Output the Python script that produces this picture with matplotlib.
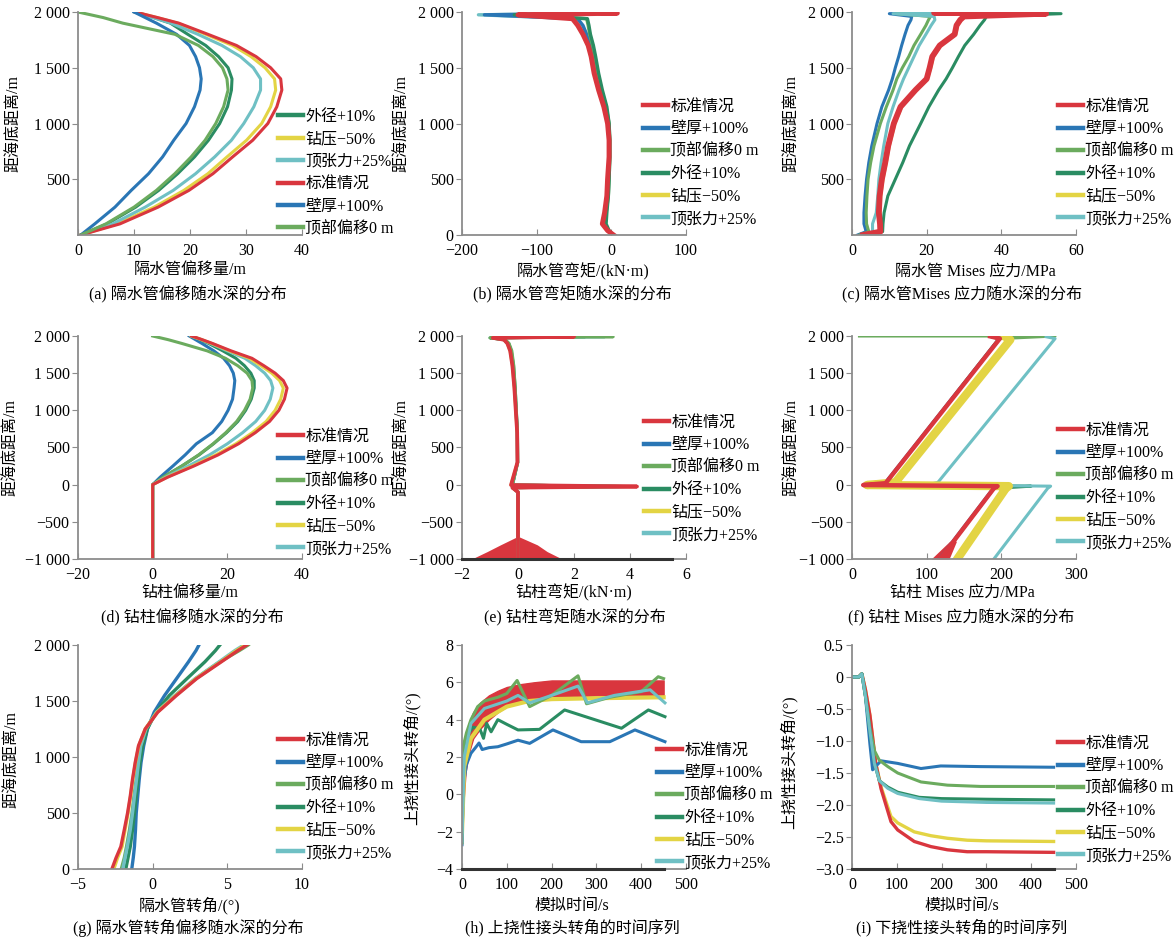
import matplotlib.pyplot as plt
from matplotlib.lines import Line2D

plt.rcParams['font.family'] = ['Liberation Serif', 'Noto Sans CJK SC']
plt.rcParams['axes.unicode_minus'] = True

W, H = 1174, 942

# 0 标准, 1 壁厚, 2 顶部偏移, 3 外径, 4 钻压, 5 顶张力
NAMES = ['标准情况', '壁厚+100%', '顶部偏移0 m', '外径+10%', '钻压−50%', '顶张力+25%']
COLORS = ['#d9363e', '#2a76b5', '#6bab5e', '#2a8c62', '#e3d444', '#6fc0c4']

# (a) riser offset vs height
H_A = [0, 100, 250, 400, 550, 700, 850, 1000, 1150, 1300, 1400, 1500, 1600, 1700, 1800, 1900, 1950, 2000]
A_STD = [0.5, 7.5, 14.3, 19.8, 24.1, 27.6, 31.2, 33.9, 35.5, 36.4, 36.2, 34.4, 31.8, 28.3, 23.2, 18.0, 14.2, 10.2]
A_WALL = [0.5, 3.0, 6.6, 9.5, 12.6, 15.1, 17.1, 19.3, 20.8, 21.8, 22.0, 21.7, 21.0, 19.9, 17.6, 14.0, 12.0, 10.0]
A_TOP0 = [0.5, 5.0, 10.0, 14.0, 17.3, 20.2, 22.7, 24.6, 26.0, 26.8, 26.6, 25.8, 24.1, 21.5, 17.3, 8.0, 4.5, 0.0]
A_OD = [0.5, 5.2, 10.3, 14.4, 17.8, 20.8, 23.3, 25.3, 26.7, 27.4, 27.5, 26.8, 25.1, 22.8, 19.6, 16.5, 13.5, 10.3]
A_WOB = [0.5, 7.0, 13.6, 18.9, 23.2, 26.6, 30.1, 32.8, 34.4, 35.3, 35.1, 33.4, 30.9, 27.6, 22.8, 17.8, 14.1, 10.2]
A_TEN = [0.5, 6.2, 12.0, 17.0, 21.0, 24.4, 27.4, 29.6, 31.4, 32.6, 32.6, 31.3, 29.0, 25.7, 21.4, 16.6, 13.4, 10.0]

# (b) riser bending moment
H_B = [0, 40, 100, 200, 350, 500, 700, 850, 1000, 1150, 1300, 1450, 1600, 1700, 1800, 1880, 1940, 1975, 1990, 2000]
B_STD = [3, -5, -12, -9, -6, -5, -3, -3, -5, -10, -17, -23, -27, -31, -38, -45, -52, -125, 8, -40]
B_WALL = [2, -5, -10, -8, -5, -4, -3, -3, -5, -9, -15, -20, -24, -28, -33, -38, -45, -170, 0, -40]
B_TOP0 = [2, -4, -8, -7, -4, -3, -2, -2, -3, -7, -13, -18, -22, -25, -29, -31, -33, -120, 8, -50]
B_OD = [2, -3, -7, -6, -4, -3, -2, -2, -3, -6, -12, -17, -21, -24, -28, -30, -32, -130, 5, -60]
B_WOB = [3, -5, -12, -9, -6, -5, -3, -3, -5, -10, -17, -23, -27, -31, -38, -45, -52, -120, 6, -45]
B_TEN = [3, -5, -10, -8, -5, -4, -3, -3, -4, -8, -15, -21, -25, -29, -35, -42, -48, -178, 5, -40]

# (c) riser Mises stress
H_C = [0, 30, 100, 200, 350, 500, 650, 800, 1000, 1150, 1300, 1400, 1500, 1600, 1700, 1800, 1880, 1930,
       1960, 1985, 1993, 2000]
C_STD = [3, 7.6, 7.5, 7.2, 7.4, 8.0, 8.9, 9.7, 11.2, 13.0, 17.0, 20.0, 20.8, 21.5, 23.5, 27.5, 28.0, 29.0,
         30, 52, 22, 45]
C_WALL = [1.5, 3.8, 3.2, 3.2, 3.5, 3.9, 4.5, 5.3, 6.7, 8.0, 9.8, 10.8, 11.6, 12.5, 13.3, 14.2, 15.0, 15.8,
          16, 10, 28, 12]
C_TOP0 = [2, 4.5, 3.9, 3.8, 4.0, 4.3, 5.0, 5.9, 7.6, 9.2, 11.0, 12.0, 13.5, 15.2, 16.6, 18.4, 19.8, 20.5,
          21, 12, 35, 20]
C_OD = [4, 8.2, 8.3, 8.6, 9.6, 11.6, 13.6, 15.4, 18.4, 20.6, 23.2, 25.2, 26.9, 28.5, 30.2, 32.6, 34.3, 35.5,
        36, 56, 25, 40]
C_WOB = [3, 7.8, 7.8, 7.5, 7.7, 8.3, 9.2, 10.0, 11.5, 13.3, 17.2, 20.2, 21.1, 21.8, 23.8, 27.8, 28.3, 29.3,
         30, 50, 24, 44]
C_TEN = [3, 5.5, 5.5, 6.5, 6.9, 7.2, 7.8, 8.5, 9.6, 11.0, 12.6, 13.8, 15.2, 16.6, 18.0, 19.8, 21.2, 22.2,
         22, 11, 40, 18]

# (d) drill string offset
H_D = [-1000, 0, 100, 250, 400, 550, 700, 850, 1000, 1150, 1300, 1400, 1500, 1600, 1700, 1800, 1900, 1950, 2000]
D_STD = [0, 0, 4.0, 11.0, 17.5, 23.0, 27.5, 31.3, 33.8, 35.3, 36.0, 35.0, 32.8, 29.8, 26.6, 21.0, 16.0, 13.3, 10.4]
D_WALL = [0, 0, 2.0, 5.4, 8.7, 11.7, 16.0, 18.5, 20.2, 21.4, 21.8, 22.0, 21.6, 20.6, 19.0, 16.4, 13.2, 11.5, 9.8]
D_TOP0 = [0, 0, 2.8, 7.8, 12.3, 16.2, 19.6, 22.5, 24.6, 26.1, 26.8, 26.6, 25.3, 22.8, 19.5, 14.6, 7.8, 4.2, 0.0]
D_OD = [0, 0, 2.8, 7.8, 12.4, 16.3, 19.8, 22.8, 24.9, 26.4, 27.2, 27.2, 26.3, 24.6, 22.3, 18.8, 15.0, 12.8, 10.2]
D_WOB = [0, 0, 3.8, 10.6, 16.9, 22.3, 26.7, 30.4, 32.8, 34.3, 35.0, 34.0, 31.9, 29.0, 25.9, 20.6, 15.8, 13.2, 10.4]
D_TEN = [0, 0, 3.4, 9.5, 15.2, 20.0, 24.1, 27.6, 30.0, 31.5, 32.2, 31.6, 30.0, 27.6, 24.7, 20.0, 15.5, 13.0, 10.2]

# (e) drill string bending moment
H_E = [-1000, -700, -100, -40, -25, -5, 300, 700, 1000, 1300, 1600, 1800, 1900, 1950, 1975, 1990, 2000]
E_STD = [0.0, 0.0, 0.0, -0.2, 4.25, -0.25, -0.02, -0.03, -0.08, -0.13, -0.2, -0.28, -0.38, -0.5, -0.9, 2.0, 0.3]
E_WALL = [0.0, 0.0, 0.0, -0.2, 3.6, -0.2, -0.02, -0.03, -0.07, -0.12, -0.18, -0.26, -0.35, -0.5, -0.9, 1.8, 0.3]
E_TOP0 = [0.0, 0.0, 0.0, -0.2, 3.8, -0.2, -0.01, -0.02, -0.06, -0.1, -0.15, -0.22, -0.32, -0.45, -1.0, 3.4, 0.5]
E_OD = [0.0, 0.0, 0.0, -0.2, 3.7, -0.2, -0.01, -0.02, -0.06, -0.1, -0.16, -0.24, -0.33, -0.48, -1.0, 2.4, 0.3]
E_WOB = [0.0, 0.0, 0.0, -0.2, 4.0, -0.25, -0.02, -0.03, -0.08, -0.13, -0.2, -0.28, -0.38, -0.5, -0.9, 2.0, 0.3]
E_TEN = [0.0, 0.0, 0.0, -0.2, 3.9, -0.2, -0.02, -0.03, -0.07, -0.12, -0.18, -0.27, -0.36, -0.5, -0.9, 3.1, 0.4]
E_FAN_Y = [-700, -810, -900, -990]
E_FAN_L = [-0.03, -0.63, -1.1, -1.6]
E_FAN_R = [0.03, 0.69, 1.04, 1.52]
E_BASE_END = 5.5

# (f) drill string Mises stress (x, y pairs per series)
F_STD_X = [185, 198, 45, 15, 195, 190, 118]
F_STD_Y = [1995, 1965, 20, -5, -20, -50, -1000]
F_WALL_X = [185, 197, 44, 15, 194, 189, 117]
F_WALL_Y = [1995, 1965, 20, -5, -20, -50, -1000]
F_TOP0_X = [10, 272, 198, 45, 15, 195, 190, 118]
F_TOP0_Y = [2000, 2000, 1965, 20, -5, -20, -50, -1000]
F_OD_X = [185, 197, 45, 15, 240, 190, 118]
F_OD_Y = [1995, 1965, 20, -5, -20, -50, -1000]
F_WOB_X = [205, 212, 58, 20, 210, 206, 141]
F_WOB_Y = [1990, 1950, 30, -5, -20, -50, -1000]
F_TEN_X = [260, 272, 115, 100, 266, 262, 190]
F_TEN_Y = [1990, 1965, 30, -5, -20, -50, -1000]
F_FAN_Y = [-760, -1000]
F_FAN_L = [131, 106]
F_FAN_R = [140, 130]

# (g) riser rotation angle
H_G = [0, 100, 200, 350, 500, 650, 800, 950, 1100, 1250, 1400, 1550, 1700, 1850, 1950, 2000]
G_STD = [-2.73, -2.45, -2.13, -1.9, -1.68, -1.5, -1.35, -1.17, -0.95, -0.5, 0.34, 1.6, 2.95, 4.6, 5.7, 6.3]
G_WALL = [-1.4, -1.3, -1.22, -1.15, -1.1, -1.0, -0.9, -0.78, -0.6, -0.35, 0.1, 0.8, 1.6, 2.4, 2.9, 3.1]
G_TOP0 = [-2.1, -1.9, -1.75, -1.55, -1.38, -1.25, -1.1, -0.98, -0.82, -0.47, 0.28, 1.52, 2.88, 4.5, 5.8, 6.4]
G_OD = [-1.8, -1.65, -1.5, -1.35, -1.22, -1.1, -0.97, -0.85, -0.67, -0.36, 0.22, 1.12, 2.3, 3.5, 4.2, 4.5]
G_WOB = [-2.6, -2.35, -2.05, -1.85, -1.65, -1.48, -1.33, -1.15, -0.93, -0.5, 0.3, 1.55, 2.9, 4.55, 5.6, 6.2]
G_TEN = [-2.0, -1.85, -1.7, -1.5, -1.35, -1.22, -1.08, -0.95, -0.8, -0.45, 0.25, 1.5, 2.85, 4.45, 5.5, 6.1]

# (h) upper flex joint rotation time series
T_H_BAND = [0, 3, 8, 15, 25, 40, 60, 80, 100, 130, 160, 200, 250, 300, 350, 400, 450]
H_STD_HI = [-1.2, 1.5, 2.8, 3.8, 4.4, 4.9, 5.3, 5.55, 5.75, 5.9, 6.0, 6.1, 6.1, 6.1, 6.1, 6.1, 6.1]
H_STD_LO = [-2.5, -0.5, 1.2, 2.2, 3.0, 3.5, 4.0, 4.4, 4.7, 4.9, 5.05, 5.2, 5.25, 5.3, 5.3, 5.3, 5.3]
T_H_WALL = [0, 3, 10, 20, 30, 38, 45, 60, 80, 100, 125, 151, 203, 266, 330, 386, 453]
H_WALL = [-2.7, 0.5, 1.6, 2.2, 2.5, 2.75, 2.4, 2.5, 2.55, 2.7, 2.9, 2.73, 3.45, 2.82, 2.82, 3.45, 2.82]
T_H_TOP0 = [0, 3, 10, 20, 35, 50, 80, 100, 123, 151, 200, 259, 278, 330, 400, 438, 450]
H_TOP0 = [-2.6, 2.6, 3.3, 4.0, 4.7, 5.0, 5.2, 5.4, 6.1, 4.7, 5.3, 6.35, 4.85, 5.2, 5.5, 6.3, 6.2]
T_H_OD = [0, 5, 12, 25, 40, 48, 55, 65, 80, 100, 125, 173, 229, 356, 416, 453]
H_OD = [-2.0, 2.0, 3.2, 3.6, 3.5, 3.0, 3.8, 3.35, 4.0, 3.75, 3.45, 3.48, 4.52, 3.54, 4.52, 4.16]
T_H_WOB = [0, 5, 20, 50, 100, 150, 200, 300, 450]
H_WOB = [-2.0, 1.5, 3.0, 4.0, 4.7, 5.0, 5.1, 5.15, 5.2]
T_H_TEN = [0, 5, 20, 50, 100, 125, 151, 200, 259, 280, 340, 420, 453]
H_TEN = [-2.5, 2.0, 3.8, 4.6, 5.0, 5.3, 4.9, 5.3, 5.8, 4.9, 5.3, 5.6, 4.9]

# (i) lower flex joint rotation time series
T_I_STD = [0, 15, 22, 30, 40, 53, 65, 87, 102, 139, 176, 213, 257, 300, 450]
I_STD = [0, 0, 0.05, -0.2, -0.6, -1.35, -1.75, -2.26, -2.39, -2.57, -2.65, -2.7, -2.73, -2.73, -2.74]
I_WOB = [0, 0, 0.05, -0.2, -0.6, -1.35, -1.72, -2.18, -2.28, -2.42, -2.48, -2.52, -2.55, -2.56, -2.57]
T_I_WALL = [0, 15, 22, 30, 40, 46, 55, 65, 102, 154, 198, 287, 450]
I_WALL = [0, 0, 0.05, -0.3, -1.05, -1.45, -1.38, -1.31, -1.35, -1.43, -1.39, -1.4, -1.41]
T_I_TOP0 = [0, 15, 22, 30, 40, 50, 61, 80, 102, 124, 154, 213, 287, 450]
I_TOP0 = [0, 0, 0.05, -0.3, -0.8, -1.15, -1.3, -1.4, -1.5, -1.56, -1.64, -1.69, -1.71, -1.71]
T_I_OD = [0, 15, 22, 30, 40, 50, 61, 80, 102, 150, 200, 300, 450]
I_OD = [0, 0, 0.05, -0.3, -0.85, -1.35, -1.62, -1.72, -1.8, -1.88, -1.9, -1.91, -1.92]
I_TEN = [0, 0, 0.05, -0.3, -0.85, -1.35, -1.62, -1.74, -1.82, -1.9, -1.94, -1.96, -1.97]
TS_END = 450

COLS = [(78, 302), (462, 686), (852, 1076)]
ROWS = [(12, 235), (336, 559), (645, 869)]
GREY = '#8c8c8c'

fig = plt.figure(figsize=(11.74, 9.42), dpi=100)


def thou(v):
    s = f'{abs(int(v)):,}'.replace(',', ' ')
    return ('−' if v < 0 else '') + s


def axes_at(c, r):
    l, rr = COLS[c]
    t, b = ROWS[r]
    ax = fig.add_axes([l / W, 1 - b / H, (rr - l) / W, (b - t) / H])
    for s in ['top', 'right']:
        ax.spines[s].set_visible(False)
    for s in ['left', 'bottom']:
        ax.spines[s].set_color(GREY)
        ax.spines[s].set_linewidth(1.3)
    ax.tick_params(axis='y', direction='out', length=4, color=GREY, labelsize=11.5, pad=2)
    ax.tick_params(axis='x', direction='in', length=4, color=GREY, labelsize=11.5, pad=6)
    return ax


def frame(ax, xlim, ylim, xt, yt, yl=None, xl=None):
    ax.set_xlim(xlim)
    ax.set_ylim(ylim)
    ax.set_xticks(xt)
    ax.set_xticklabels(xl if xl else [thou(v) for v in xt])
    ax.set_yticks(yt)
    ax.set_yticklabels(yl if yl else [thou(v) for v in yt])


def legend(ax, order, x, y):
    hs = [Line2D([], [], color=COLORS[i], lw=3.2) for i in order]
    ax.legend(hs, [NAMES[i] for i in order], loc='upper left',
              bbox_to_anchor=(x / W, 1 - y / H), bbox_transform=fig.transFigure,
              frameon=False, fontsize=11.5, handlelength=1.55, handletextpad=0.15,
              labelspacing=0.4, borderpad=0, borderaxespad=0)


def texts(ylab, yx, yy, xlab, xx, xy, cap, cx, cy):
    fig.text(yx / W, 1 - yy / H, ylab, rotation=90, ha='center', va='center', fontsize=11.5)
    fig.text(xx / W, 1 - xy / H, xlab, ha='center', va='center', fontsize=11.5)
    fig.text(cx / W, 1 - cy / H, cap, ha='center', va='center', fontsize=11.5)


STD_ORDER = [0, 1, 2, 3, 4, 5]
YL = '距海底距离/m'

# (a)
ax = axes_at(0, 0)
ser = [A_STD, A_WALL, A_TOP0, A_OD, A_WOB, A_TEN]
order = [3, 4, 5, 0, 1, 2]
for i in order:
    ax.plot(ser[i], H_A, color=COLORS[i], lw=2.2)
frame(ax, (0, 40), (0, 2000), [0, 10, 20, 30, 40], [500, 1000, 1500, 2000])
legend(ax, order, 278, 109)
texts(YL, 14, 123, '隔水管偏移量/m', 190, 270, '(a) 隔水管偏移随水深的分布', 188, 295)

# (b)
ax = axes_at(1, 0)
ser = [B_STD, B_WALL, B_TOP0, B_OD, B_WOB, B_TEN]
for i in [5, 4, 1, 2, 3, 0]:
    ax.plot(ser[i], H_B, color=COLORS[i], lw=3.6 if i == 0 else 2.4)
frame(ax, (-200, 100), (0, 2000), [-200, -100, 0, 100], [0, 500, 1000, 1500, 2000])
legend(ax, STD_ORDER, 643, 99)
texts(YL, 402, 123, '隔水管弯矩/(kN·m)', 583, 272, '(b) 隔水管弯矩随水深的分布', 572, 295)

# (c)
ax = axes_at(2, 0)
ser = [C_STD, C_WALL, C_TOP0, C_OD, C_WOB, C_TEN]
for i in [1, 2, 5, 4, 3, 0]:
    ax.plot(ser[i], H_C, color=COLORS[i], lw=4.2 if i == 0 else 2.2)
frame(ax, (0, 60), (0, 2000), [0, 20, 40, 60], [500, 1000, 1500, 2000])
legend(ax, STD_ORDER, 1058, 99)
texts(YL, 792, 123, '隔水管 Mises 应力/MPa', 975, 272, '(c) 隔水管Mises 应力随水深的分布', 962, 295)

YT2 = [-1000, -500, 0, 500, 1000, 1500, 2000]

# (d)
ax = axes_at(0, 1)
ser = [D_STD, D_WALL, D_TOP0, D_OD, D_WOB, D_TEN]
for i in [1, 3, 2, 5, 4, 0]:
    ax.plot(ser[i], H_D, color=COLORS[i], lw=2.2)
frame(ax, (-20, 40), (-1000, 2000), [-20, 0, 20, 40], YT2)
legend(ax, STD_ORDER, 278, 429)
texts(YL, 11, 447, '钻柱偏移量/m', 190, 593, '(d) 钻柱偏移随水深的分布', 192, 618)

# (e)
ax = axes_at(1, 1)
ser = [E_STD, E_WALL, E_TOP0, E_OD, E_WOB, E_TEN]
for i in [1, 3, 4, 5, 2, 0]:
    ax.plot(ser[i], H_E, color=COLORS[i], lw=2.7 if i == 0 else 2.2)
ax.fill_betweenx(E_FAN_Y, E_FAN_L, E_FAN_R, color=COLORS[0], lw=0)
ax.plot([-2, E_BASE_END], [-1000, -1000], color='#333333', lw=2.2, clip_on=False, zorder=5)
frame(ax, (-2, 6), (-1000, 2000), [-2, 0, 2, 4, 6], YT2)
legend(ax, STD_ORDER, 644, 415)
texts(YL, 402, 447, '钻柱弯矩/(kN·m)', 574, 593, '(e) 钻柱弯矩随水深的分布', 575, 618)

# (f)
ax = axes_at(2, 1)
ser = [(F_STD_X, F_STD_Y), (F_WALL_X, F_WALL_Y), (F_TOP0_X, F_TOP0_Y),
       (F_OD_X, F_OD_Y), (F_WOB_X, F_WOB_Y), (F_TEN_X, F_TEN_Y)]
for i in [2, 1, 3, 5, 4, 0]:
    lw = {0: 3.2, 4: 6.0}.get(i, 2.2)
    ax.plot(ser[i][0], ser[i][1], color=COLORS[i], lw=lw)
ax.fill_betweenx(F_FAN_Y, F_FAN_L, F_FAN_R, color=COLORS[0], lw=0)
frame(ax, (0, 300), (-1000, 2000), [0, 100, 200, 300], YT2)
legend(ax, STD_ORDER, 1058, 423)
texts(YL, 792, 447, '钻柱 Mises 应力/MPa', 962, 593, '(f) 钻柱 Mises 应力随水深的分布', 961, 618)

# (g)
ax = axes_at(0, 2)
ser = [G_STD, G_WALL, G_TOP0, G_OD, G_WOB, G_TEN]
for i in [1, 3, 2, 5, 4, 0]:
    ax.plot(ser[i], H_G, color=COLORS[i], lw=2.4)
frame(ax, (-5, 10), (0, 2000), [-5, 0, 5, 10], [0, 500, 1000, 1500, 2000])
legend(ax, STD_ORDER, 278, 733)
texts(YL, 12, 760, '隔水管转角/(°)', 190, 906, '(g) 隔水管转角偏移随水深的分布', 188, 928)

# (h)
ax = axes_at(1, 2)
ax.plot(T_H_WALL, H_WALL, color=COLORS[1], lw=2.2)
ax.plot(T_H_OD, H_OD, color=COLORS[3], lw=2.2)
ax.plot(T_H_WOB, H_WOB, color=COLORS[4], lw=3.0)
ax.plot(T_H_TOP0, H_TOP0, color=COLORS[2], lw=2.2)
ax.plot(T_H_TEN, H_TEN, color=COLORS[5], lw=2.2)
ax.fill_between(T_H_BAND, H_STD_LO, H_STD_HI, color=COLORS[0], lw=1)
ax.plot([0, TS_END], [-4, -4], color='#333333', lw=2.2, clip_on=False, zorder=5)
frame(ax, (0, 500), (-4, 8), [0, 100, 200, 300, 400, 500], [-4, -2, 0, 2, 4, 6, 8],
      yl=['−4', '−2', '0', '2', '4', '6', '8'])
legend(ax, STD_ORDER, 657, 743)
texts('上挠性接头转角/(°)', 412, 758, '模拟时间/s', 572, 906, '(h) 上挠性接头转角的时间序列', 572, 928)

# (i)
ax = axes_at(2, 2)
ax.plot(T_I_STD, I_WOB, color=COLORS[4], lw=2.4)
ax.plot(T_I_STD, I_STD, color=COLORS[0], lw=2.4)
ax.plot(T_I_WALL, I_WALL, color=COLORS[1], lw=2.2)
ax.plot(T_I_TOP0, I_TOP0, color=COLORS[2], lw=2.2)
ax.plot(T_I_OD, I_OD, color=COLORS[3], lw=2.2)
ax.plot(T_I_OD, I_TEN, color=COLORS[5], lw=2.2)
ax.plot([0, TS_END], [-3, -3], color='#333333', lw=2.2, clip_on=False, zorder=5)
yt = [-3.0, -2.5, -2.0, -1.5, -1.0, -0.5, 0, 0.5]
frame(ax, (0, 500), (-3, 0.5), [0, 100, 200, 300, 400, 500], yt,
      yl=['−3.0', '−2.5', '−2.0', '−1.5', '−1.0', '−0.5', '0', '0.5'])
legend(ax, STD_ORDER, 1058, 736)
texts('上挠性接头转角/(°)', 789, 762, '模拟时间/s', 962, 906, '(i) 下挠性接头转角的时间序列', 962, 928)

fig.savefig('out.png', dpi=100)
